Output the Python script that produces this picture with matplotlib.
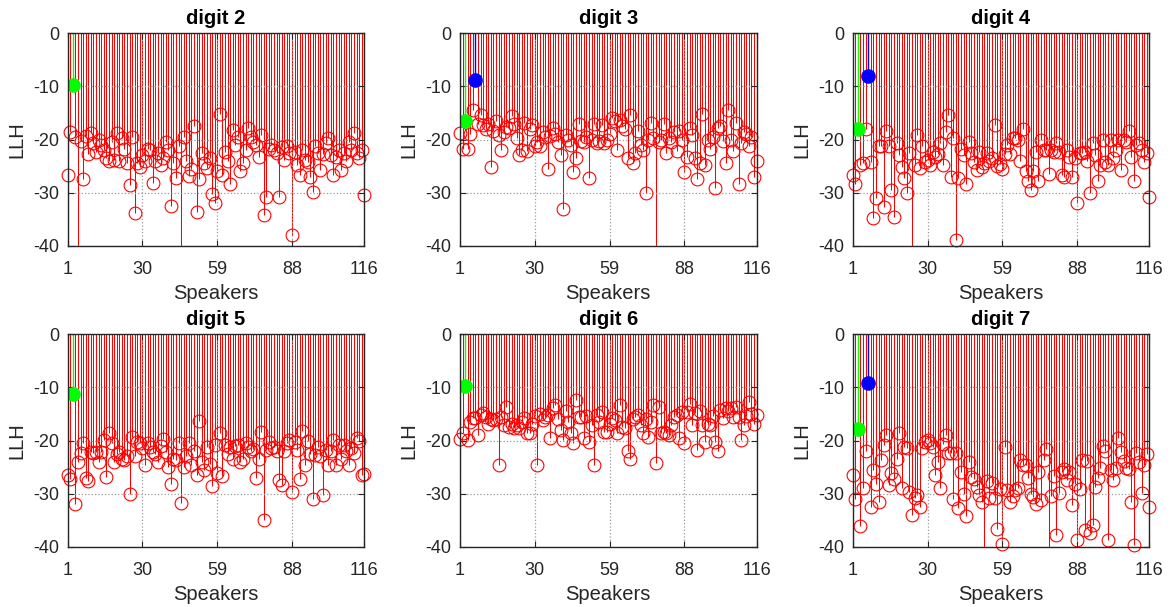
import numpy as np
import matplotlib
matplotlib.use("Agg")
import matplotlib.pyplot as plt

plt.rcParams['font.family'] = ['Liberation Sans', 'DejaVu Sans']

speakers = np.arange(1, 117)
x_ticks = [1, 30, 59, 88, 116]
y_ticks = [-40, -30, -20, -10, 0]
titles = ["digit 2", "digit 3", "digit 4", "digit 5", "digit 6", "digit 7"]

# log-likelihood of each speaker model for the spoken digit
llh_digit2 = [
    -26.6, -18.6, -9.8, -19.5, -45.0, -20.3, -27.5, -19.3, -22.8, -18.7,
    -20.7, -22.3, -20.0, -21.0, -22.0, -23.5, -24.0, -20.4, -23.9, -18.7,
    -24.0, -19.8, -21.7, -24.5, -28.6, -19.6, -33.9, -24.5, -25.1, -22.9,
    -24.0, -21.8, -22.0, -28.2, -24.0, -22.5, -24.8, -23.4, -20.4, -22.0,
    -32.6, -24.5, -27.2, -21.2, -45.0, -19.5, -24.0, -26.8, -25.5, -17.5,
    -33.6, -27.4, -22.5, -24.5, -25.4, -23.5, -30.3, -32.0, -26.0, -15.1,
    -26.7, -22.3, -24.0, -28.4, -18.2, -21.0, -19.5, -26.0, -24.5, -22.0,
    -17.8, -19.5, -20.4, -21.0, -23.2, -19.1, -34.3, -30.8, -21.7, -21.0,
    -22.0, -22.6, -30.8, -21.5, -23.9, -21.2, -22.5, -38.0, -22.3, -24.8,
    -26.7, -22.0, -23.9, -24.3, -27.0, -29.8, -21.3, -22.5, -25.7, -22.8,
    -20.7, -19.8, -23.0, -26.7, -23.2, -22.0, -25.7, -22.5, -24.0, -20.4,
    -22.0, -18.8, -22.6, -23.5, -22.0, -30.4,
]
llh_digit3 = [
    -18.7, -21.7, -16.5, -21.7, -19.0, -14.4, -8.8, -17.0, -15.3, -17.3,
    -18.1, -17.0, -25.1, -18.4, -16.5, -19.1, -22.0, -18.5, -17.6, -17.9,
    -15.5, -17.1, -19.8, -22.9, -22.0, -16.8, -22.2, -18.0, -17.3, -21.3,
    -20.5, -21.3, -18.6, -19.6, -25.5, -19.3, -17.9, -19.0, -20.4, -23.0,
    -33.1, -19.1, -20.0, -21.0, -26.2, -23.5, -17.1, -20.3, -20.5, -19.5,
    -27.2, -20.0, -17.1, -20.6, -20.3, -17.3, -20.7, -20.1, -19.0, -16.0,
    -16.6, -22.0, -16.3, -17.5, -18.1, -23.4, -15.3, -24.5, -22.6, -18.4,
    -21.0, -22.0, -30.1, -20.0, -16.9, -19.8, -45.0, -20.5, -20.0, -17.1,
    -22.6, -19.8, -20.5, -18.5, -22.2, -18.4, -20.1, -26.2, -23.2, -17.9,
    -19.1, -23.5, -27.5, -24.5, -15.1, -24.8, -20.1, -21.8, -19.5, -29.1,
    -17.9, -17.4, -20.3, -24.4, -14.4, -20.1, -22.2, -16.9, -28.4, -20.6,
    -18.6, -19.0, -21.3, -19.5, -27.0, -24.0,
]
llh_digit4 = [
    -26.6, -28.4, -18.0, -24.8, -24.5, -18.0, -8.0, -24.3, -34.8, -31.1,
    -21.3, -21.3, -32.8, -18.4, -21.3, -29.5, -34.5, -20.7, -22.9, -25.1,
    -27.3, -30.1, -22.5, -45.0, -24.8, -19.1, -25.4, -21.2, -24.2, -23.9,
    -24.8, -22.3, -23.2, -22.8, -20.7, -24.8, -18.6, -15.4, -27.0, -19.8,
    -38.9, -27.2, -21.7, -23.0, -28.4, -20.4, -22.6, -24.2, -25.7, -22.3,
    -25.1, -24.5, -22.6, -24.0, -23.5, -17.3, -25.0, -24.7, -25.5, -22.8,
    -21.0, -22.8, -19.8, -19.8, -20.0, -24.0, -18.0, -26.0, -27.9, -29.5,
    -26.0, -22.3, -27.9, -20.1, -22.0, -22.0, -26.4, -22.0, -22.3, -20.7,
    -22.3, -26.7, -27.0, -22.0, -23.2, -27.0, -23.5, -32.0, -22.6, -22.6,
    -22.3, -24.0, -30.1, -20.7, -23.0, -27.9, -24.8, -20.1, -24.2, -24.8,
    -20.1, -23.5, -22.0, -20.1, -25.7, -20.1, -20.5, -18.4, -23.2, -27.8,
    -21.0, -20.7, -22.0, -24.2, -22.6, -30.8,
]
llh_digit5 = [
    -26.5, -27.2, -11.2, -32.0, -24.0, -22.4, -20.5, -27.0, -27.7, -22.1,
    -22.4, -22.2, -24.0, -22.2, -19.9, -26.9, -18.6, -20.5, -24.0, -22.5,
    -22.2, -23.4, -23.7, -23.0, -30.1, -19.3, -23.0, -20.3, -20.5, -21.5,
    -24.6, -20.5, -21.2, -22.2, -22.5, -24.1, -21.0, -19.7, -22.2, -24.9,
    -28.2, -23.4, -23.7, -20.5, -31.8, -24.9, -23.0, -20.5, -24.6, -22.0,
    -26.5, -16.4, -24.0, -25.5, -21.2, -24.5, -28.6, -20.8, -26.2, -18.6,
    -26.6, -20.8, -22.6, -21.2, -23.4, -21.0, -20.8, -24.0, -23.4, -20.5,
    -21.2, -22.0, -21.6, -27.1, -23.4, -18.3, -35.0, -21.8, -20.2, -21.5,
    -21.2, -22.0, -27.4, -28.4, -22.0, -20.5, -19.9, -29.6, -20.2, -21.8,
    -27.2, -18.2, -24.6, -20.0, -22.5, -31.0, -22.7, -21.2, -23.0, -30.3,
    -21.8, -24.6, -22.0, -19.9, -24.6, -20.8, -23.4, -20.8, -22.0, -24.6,
    -21.5, -22.4, -19.6, -20.1, -26.4, -26.3,
]
llh_digit6 = [
    -19.7, -18.6, -9.7, -19.9, -16.6, -15.7, -15.8, -19.0, -15.2, -14.9,
    -15.5, -16.8, -16.0, -16.1, -16.0, -24.7, -15.5, -17.1, -13.6, -17.4,
    -16.8, -17.7, -17.1, -17.7, -16.5, -15.8, -18.6, -18.6, -16.8, -15.3,
    -24.7, -15.0, -16.1, -15.5, -15.2, -19.5, -13.9, -13.3, -16.0, -18.0,
    -19.9, -14.5, -16.5, -18.5, -20.5, -12.4, -15.5, -15.5, -19.6, -15.3,
    -20.2, -17.0, -24.6, -15.2, -16.5, -14.6, -18.3, -18.3, -16.8, -15.8,
    -16.1, -18.5, -13.3, -17.4, -17.7, -22.0, -23.4, -16.0, -15.5, -15.2,
    -17.1, -18.6, -16.0, -19.3, -16.5, -13.3, -24.3, -13.6, -18.5, -18.3,
    -18.6, -18.9, -17.1, -15.5, -15.2, -19.5, -14.7, -20.5, -14.7, -13.2,
    -17.1, -14.9, -21.8, -14.4, -17.0, -20.2, -16.8, -17.1, -15.3, -20.2,
    -22.0, -14.3, -15.7, -13.9, -14.4, -13.9, -15.5, -13.6, -15.5, -19.9,
    -17.1, -15.3, -12.8, -15.0, -16.8, -15.2,
]
llh_digit7 = [
    -26.5, -31.0, -17.8, -36.1, -29.0, -22.0, -9.2, -32.5, -25.5, -28.2,
    -31.6, -23.7, -20.8, -19.0, -28.4, -26.2, -27.2, -23.4, -18.5, -28.9,
    -21.3, -21.5, -29.6, -34.0, -30.8, -30.3, -32.5, -21.5, -20.2, -19.9,
    -20.5, -21.3, -26.5, -24.0, -29.0, -20.7, -19.0, -22.4, -22.4, -31.0,
    -22.4, -32.8, -25.9, -30.1, -34.3, -24.1, -26.8, -27.2, -28.7, -30.3,
    -31.6, -45.0, -27.7, -30.9, -28.0, -30.9, -36.7, -29.1, -39.4, -21.2,
    -29.3, -31.5, -30.5, -29.3, -29.0, -23.7, -24.6, -24.6, -27.0, -30.1,
    -30.6, -32.0, -25.9, -31.2, -23.7, -21.6, -45.0, -30.4, -26.6, -37.8,
    -29.9, -25.9, -25.4, -27.5, -26.0, -32.1, -28.1, -38.7, -29.1, -23.7,
    -36.8, -23.9, -37.5, -35.9, -28.7, -27.1, -25.2, -21.0, -22.0, -38.7,
    -25.5, -27.4, -25.2, -19.6, -22.1, -23.9, -25.1, -25.4, -31.5, -39.7,
    -22.4, -24.0, -29.9, -24.6, -22.6, -32.5,
]

all_llh = [llh_digit2, llh_digit3, llh_digit4, llh_digit5, llh_digit6, llh_digit7]
# speaker index of the true speaker (green) and of a wrongly preferred one (blue)
true_speaker = [3, 3, 3, 3, 3, 3]
best_other = [None, 7, 7, None, None, 7]

fig = plt.figure(figsize=(11.71, 6.07), dpi=100)
lefts = [0.0578, 0.3928, 0.7282]
bottoms = [0.5952, 0.0993]
width, height = 0.2533, 0.3499

ink = '#262626'
for k, (title, vals) in enumerate(zip(titles, all_llh)):
    ax = fig.add_axes([lefts[k % 3], bottoms[k // 3], width, height])
    vals = np.asarray(vals, dtype=float)
    special = {true_speaker[k]}
    if best_other[k] is not None:
        special.add(best_other[k])
    normal = np.array([s not in special for s in speakers])

    xs = speakers[normal]
    ys = vals[normal]
    ax.vlines(xs, np.maximum(ys, -40), 0, colors='red', linewidth=0.75, zorder=2)
    shown = ys >= -40
    ax.plot(xs[shown], ys[shown], linestyle='none', marker='o', markersize=9.2,
            markerfacecolor='none', markeredgecolor='red', markeredgewidth=0.8,
            clip_on=False, zorder=3)

    for s, col in [(true_speaker[k], '#00ff00'), (best_other[k], '#0000ff')]:
        if s is None:
            continue
        v = vals[s - 1]
        ax.vlines([s], v, 0, colors=col, linewidth=1.0, zorder=4)
        ax.plot([s], [v], linestyle='none', marker='o', markersize=9.5,
                markerfacecolor=col, markeredgecolor=col, zorder=5)

    ax.set_xlim(1, 116)
    ax.set_ylim(-40, 0)
    ax.set_xticks(x_ticks)
    ax.set_yticks(y_ticks)
    ax.set_xticklabels([str(t) for t in x_ticks])
    ax.set_yticklabels([str(t) for t in y_ticks])
    ax.grid(True, linestyle=':', color='#9a9a9a', linewidth=0.9)
    ax.set_axisbelow(False)
    ax.tick_params(direction='in', top=True, right=True, length=4,
                   width=0.8, colors=ink, labelsize=13)
    ax.tick_params(axis='y', pad=6)
    ax.tick_params(axis='x', pad=11)
    for sp in ax.spines.values():
        sp.set_color(ink)
        sp.set_linewidth(1.0)
        sp.set_zorder(6)
    ax.set_xlabel('Speakers', fontsize=14.5, color=ink, labelpad=4)
    ax.set_ylabel('LLH', fontsize=14.5, color=ink, labelpad=5)
    ax.set_title(title, fontsize=14.5, fontweight='bold', color='black', pad=6.5)

fig.savefig('out.png', dpi=100)
